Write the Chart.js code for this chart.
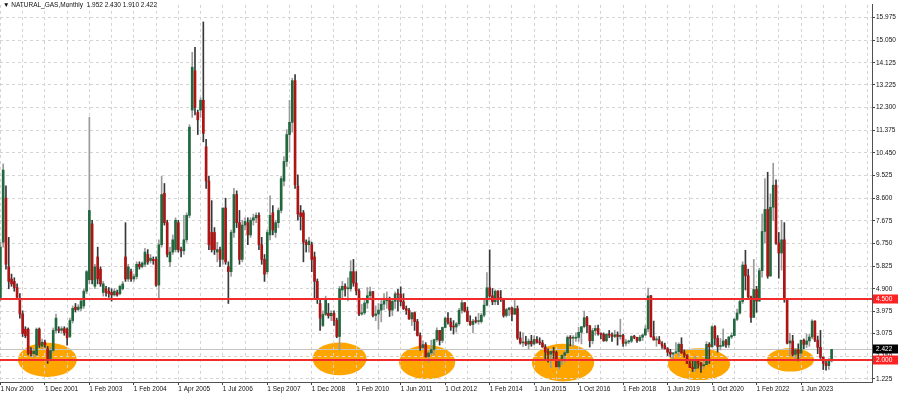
<!DOCTYPE html>
<html>
<head>
<meta charset="utf-8">
<script src="https://cdn.jsdelivr.net/npm/chart.js@4.4.1/dist/chart.umd.min.js"></script>
<style>
  html, body { margin: 0; padding: 0; background: #fff; }
  #wrap { position: relative; width: 900px; height: 396px; }
  #title { position: absolute; left: 3px; top: 0px; font: 6.5px "Liberation Sans", Arial, sans-serif; color: #111; white-space: pre; line-height: 10px; }
</style>
</head>
<body>
<div id="wrap">
  <canvas id="gasChart"></canvas>
  <div id="title">▼ NATURAL_GAS,Monthly  1.952 2.430 1.910 2.422</div>
</div>
<script>
// x軸ラベル (16本ごと)
var xLabels = ['1 Nov 2000', '1 Dec 2001', '1 Feb 2003', '1 Feb 2004', '1 Apr 2005', '1 Jul 2006', '1 Sep 2007',
  '1 Dec 2008', '1 Feb 2010', '1 Jun 2011', '1 Oct 2012', '1 Feb 2014', '1 Jun 2015', '1 Oct 2016',
  '1 Feb 2018', '1 Jun 2019', '1 Oct 2020', '1 Feb 2022', '1 Jun 2023'];
var yTicks = [1.225, 2.150, 3.075, 3.975, 4.900, 5.825, 6.750, 7.675, 8.600, 9.525, 10.450, 11.375, 12.300, 13.225, 14.125, 15.050, 15.975];

// 月足 OHLC
var opens = [
  4.5, 6.8, 8.6, 5.8, 5.3, 5.2, 4.95, 4.5, 3.87, 3.25,
  3.25, 2.35, 2.25, 2.2, 3.25, 2.55, 2.72, 2.45, 2.05, 2.38,
  3.2, 3.25, 3.2, 3.27, 3.25, 2.95, 3.6, 4.15, 4.05, 4.1,
  4.2, 4.8, 5.27, 7.55, 5.0, 6.2, 5.7, 4.75, 4.9, 4.8,
  4.75, 4.65, 4.75, 4.7, 4.9, 6.2, 5.3, 5.6, 5.3, 5.4,
  5.9, 5.8, 5.9, 6.3, 6.05, 6.1, 6.1, 5.05, 6.7, 8.8,
  7.6, 6.0, 6.4, 6.5, 7.6, 6.5, 6.45, 6.9, 7.9, 12.2,
  13.8, 12.1, 12.2, 12.6, 10.7, 9.3, 7.2, 7.2, 6.4, 6.5,
  6.1, 8.2, 5.8, 5.6, 7.2, 8.75, 7.6, 6.1, 7.5, 7.6,
  7.1, 7.7, 7.8, 7.9, 6.7, 6.1, 5.6, 7.1, 8.0, 7.2,
  7.6, 8.1, 9.3, 10.1, 11.2, 11.7, 13.4, 9.1, 8.0, 8.0,
  6.8, 6.7, 6.7, 6.2, 5.2, 4.3, 3.4, 3.85, 3.9, 3.8,
  3.9, 3.6, 2.95, 4.85, 5.0, 4.9, 4.9, 5.6, 5.13, 4.82,
  3.87, 3.92, 4.32, 4.62, 4.78, 3.81, 3.87, 4.03, 4.27, 4.41,
  4.42, 4.03, 4.39, 4.69, 4.67, 4.37, 4.09, 4.02, 3.67, 3.92,
  3.56, 2.99, 2.5, 2.62, 2.13, 2.28, 2.42, 2.82, 3.2, 2.79,
  3.32, 3.7, 3.54, 3.35, 3.34, 3.47, 4.02, 4.33, 3.99, 3.57,
  3.44, 3.58, 3.56, 3.56, 3.82, 4.23, 4.94, 4.61, 4.37, 4.8,
  4.54, 4.46, 3.81, 4.05, 4.12, 3.86, 4.09, 2.89, 2.69, 2.73,
  2.64, 2.76, 2.65, 2.83, 2.72, 2.69, 2.52, 2.32, 2.23, 2.34,
  2.3, 1.71, 1.96, 2.18, 2.29, 2.92, 2.88, 2.88, 2.91, 3.12,
  3.35, 3.72, 3.39, 2.78, 3.19, 3.28, 3.07, 3.04, 2.78, 3.04,
  3.01, 2.95, 3.02, 2.95, 3.0, 2.67, 2.73, 2.76, 2.95, 2.92,
  2.78, 2.92, 3.01, 3.26, 4.61, 2.94, 2.81, 2.81, 2.66, 2.57,
  2.45, 2.31, 2.23, 2.28, 2.33, 2.63, 2.28, 2.19, 1.84, 1.68,
  1.64, 1.95, 1.85, 1.75, 1.8, 2.63, 2.53, 3.35, 2.88, 2.54,
  2.56, 2.77, 2.61, 2.93, 2.99, 3.65, 3.91, 4.38, 5.87, 5.43,
  4.57, 3.73, 4.87, 4.4, 5.64, 7.24, 8.14, 5.42, 8.23, 9.13,
  6.77, 6.36, 6.9, 4.48, 2.68, 2.77, 2.22, 2.41, 2.27, 2.8,
  2.63, 2.77, 2.93, 3.58, 2.8, 2.51, 2.1, 1.86, 1.76, 1.952
];
var highs = [
  6.8, 10.0, 9.1, 7.0, 5.5, 5.35, 5.1, 4.7, 4.0, 3.35,
  3.3, 2.5, 2.45, 3.3, 3.3, 2.85, 2.8, 2.55, 2.5, 3.3,
  3.87, 3.35, 3.35, 3.35, 3.3, 3.7, 4.2, 4.3, 4.25, 4.5,
  4.9, 5.65, 11.9, 7.7, 5.9, 6.6, 5.8, 5.2, 5.0, 4.95,
  4.9, 4.9, 4.85, 5.05, 5.2, 7.6, 5.9, 5.7, 5.5, 6.0,
  6.0, 6.0, 6.55, 6.5, 6.3, 6.2, 6.2, 6.9, 9.5, 9.2,
  7.7, 6.6, 7.1, 7.8, 7.7, 6.6, 7.9, 8.0, 11.6, 14.56,
  14.76, 12.2, 12.7, 15.8, 11.0, 9.5, 8.5, 7.4, 6.8, 6.6,
  8.2, 8.6, 6.0, 7.3, 9.0, 8.9, 8.1, 7.7, 7.8, 7.8,
  7.8, 7.95, 8.0, 8.0, 7.0, 6.3, 7.3, 8.7, 8.3, 7.7,
  8.2, 9.5, 10.3, 11.4, 12.6, 13.5, 13.65, 9.55, 8.3, 8.1,
  6.9, 7.0, 6.8, 6.4, 5.3, 4.5, 4.0, 4.6, 4.3, 4.0,
  4.0, 3.7, 5.0, 5.2, 5.1, 5.35, 6.05, 6.1, 5.6, 4.9,
  4.26, 4.45, 4.95, 4.97, 4.8, 4.2, 4.3, 4.45, 4.7, 4.77,
  4.56, 4.43, 4.77, 4.88, 4.98, 4.7, 4.2, 4.1, 3.95, 3.95,
  3.65, 3.1, 2.77, 2.7, 2.35, 2.8, 2.85, 3.3, 3.2, 3.34,
  3.75, 3.93, 3.7, 3.6, 3.52, 4.1, 4.44, 4.34, 4.15, 3.8,
  3.65, 3.75, 3.9, 3.9, 4.49, 5.56, 6.49, 4.91, 4.86, 4.83,
  4.83, 4.5, 4.1, 4.13, 4.15, 4.49, 4.2, 3.14, 3.1, 2.96,
  2.85, 3.0, 2.98, 2.95, 2.9, 2.8, 2.62, 2.45, 2.35, 2.51,
  2.36, 1.99, 2.2, 2.36, 2.98, 2.99, 2.99, 3.1, 3.33, 3.35,
  3.99, 3.77, 3.4, 3.28, 3.4, 3.42, 3.1, 3.1, 3.07, 3.2,
  3.1, 3.2, 3.14, 3.66, 3.05, 2.83, 2.8, 2.98, 3.0, 2.92,
  3.0, 3.05, 3.4, 4.93, 4.63, 3.58, 2.95, 2.95, 2.74, 2.68,
  2.5, 2.43, 2.3, 2.7, 2.69, 2.9, 2.4, 2.2, 2.0, 1.99,
  2.15, 1.97, 1.9, 1.96, 2.74, 2.7, 3.39, 3.4, 2.99, 2.87,
  3.26, 2.83, 2.95, 3.1, 3.7, 4.07, 4.43, 6.0, 6.47, 5.7,
  4.6, 6.1, 5.0, 5.74, 7.95, 9.4, 9.66, 8.78, 10.03, 9.35,
  7.2, 7.7, 7.6, 4.5, 3.08, 3.0, 2.47, 2.65, 2.8, 2.85,
  3.05, 3.05, 3.64, 3.59, 2.97, 3.2, 2.12, 1.98, 2.05, 2.43
];
var lows = [
  4.4, 6.6, 5.7, 4.9, 5.0, 4.8, 4.45, 3.7, 2.95, 2.9,
  2.2, 2.15, 2.1, 2.15, 2.5, 2.45, 2.5, 1.85, 1.95, 2.3,
  3.1, 3.1, 3.1, 3.0, 2.6, 2.9, 3.5, 3.95, 4.0, 4.0,
  4.1, 4.7, 5.1, 5.1, 4.9, 5.1, 5.0, 4.6, 4.6, 4.55,
  4.4, 4.6, 4.6, 4.65, 4.85, 5.2, 5.2, 5.2, 5.2, 5.3,
  5.7, 5.75, 5.8, 5.9, 5.95, 5.9, 5.0, 4.5, 6.6, 7.5,
  6.2, 5.8, 6.3, 6.4, 6.4, 6.2, 6.3, 6.8, 7.8, 11.9,
  12.0, 11.2, 11.9, 10.9, 9.0, 6.5, 6.4, 6.3, 6.0, 5.8,
  5.9, 5.9, 4.3, 5.4, 7.0, 7.4, 5.9, 6.0, 7.3, 6.7,
  7.0, 7.5, 7.6, 6.5, 5.9, 5.2, 5.5, 6.9, 7.1, 7.0,
  7.4, 8.0, 9.1, 9.9, 10.5, 11.3, 9.0, 7.7, 7.3, 6.0,
  6.4, 6.4, 5.6, 4.5, 4.3, 3.2, 3.35, 3.8, 3.7, 3.6,
  3.4, 2.9, 2.4, 4.5, 4.6, 4.4, 4.8, 5.0, 4.65, 3.8,
  3.82, 3.85, 4.1, 4.45, 3.75, 3.6, 3.25, 3.55, 4.05, 4.1,
  3.77, 3.8, 4.1, 4.0, 4.2, 4.05, 3.85, 3.65, 3.4, 3.2,
  2.97, 2.38, 2.43, 2.1, 1.9, 2.2, 2.2, 2.75, 2.6, 2.7,
  3.3, 3.45, 3.2, 3.05, 3.13, 3.4, 3.9, 3.95, 3.56, 3.4,
  3.1, 3.5, 3.45, 3.5, 3.75, 4.2, 4.55, 4.25, 4.25, 4.25,
  4.38, 3.74, 3.75, 3.8, 3.59, 3.85, 2.83, 2.64, 2.55, 2.58,
  2.44, 2.55, 2.6, 2.68, 2.62, 2.51, 1.98, 1.9, 1.68, 2.04,
  1.71, 1.61, 1.8, 1.9, 2.25, 2.57, 2.55, 2.75, 2.75, 2.65,
  3.3, 3.1, 2.52, 2.65, 3.0, 3.0, 2.85, 2.75, 2.73, 2.9,
  2.75, 2.9, 2.6, 2.84, 2.55, 2.57, 2.65, 2.7, 2.86, 2.71,
  2.75, 2.78, 3.0, 3.14, 2.92, 2.8, 2.55, 2.65, 2.46, 2.44,
  2.17, 2.11, 2.03, 2.24, 2.14, 2.27, 2.1, 1.84, 1.68, 1.52,
  1.52, 1.66, 1.48, 1.63, 1.8, 1.85, 2.5, 2.6, 2.31, 2.4,
  2.56, 2.5, 2.5, 2.87, 2.98, 3.6, 3.86, 4.3, 4.85, 4.5,
  3.53, 3.72, 3.94, 4.38, 5.37, 6.76, 5.33, 5.41, 7.68, 6.71,
  5.33, 5.66, 4.35, 2.65, 2.17, 2.15, 1.95, 1.95, 2.1, 2.45,
  2.5, 2.55, 2.85, 2.74, 2.25, 2.05, 1.6, 1.58, 1.6, 1.91
];
var closes = [
  6.6, 9.75, 5.9, 5.2, 5.1, 4.95, 4.55, 3.87, 3.07, 2.98,
  2.27, 2.25, 2.35, 3.25, 2.6, 2.72, 2.62, 2.05, 2.38, 3.2,
  3.7, 3.2, 3.27, 3.1, 2.9, 3.6, 4.1, 4.05, 4.15, 4.4,
  4.8, 5.6, 8.1, 5.27, 5.8, 5.3, 5.1, 5.1, 4.75, 4.7,
  4.65, 4.8, 4.65, 5.0, 5.1, 5.3, 5.8, 5.3, 5.4, 5.9,
  5.8, 5.95, 6.4, 6.0, 6.15, 6.05, 5.05, 6.7, 8.75, 7.6,
  6.3, 6.4, 6.9, 7.7, 6.5, 6.45, 6.9, 7.9, 11.5, 13.95,
  12.3, 11.8, 12.6, 11.25, 9.3, 6.7, 6.5, 6.5, 6.5, 6.1,
  8.2, 6.0, 5.6, 7.2, 8.75, 7.6, 6.1, 7.5, 7.65, 7.1,
  7.7, 7.8, 7.9, 6.7, 6.1, 5.5, 7.2, 7.9, 7.3, 7.6,
  8.1, 9.4, 10.1, 11.2, 11.7, 13.4, 9.15, 7.95, 7.85, 6.8,
  6.7, 6.85, 6.1, 5.2, 4.5, 3.7, 3.85, 4.5, 3.8, 3.9,
  3.6, 2.95, 4.9, 5.0, 4.9, 4.9, 5.6, 5.13, 4.82, 3.87,
  3.92, 4.32, 4.62, 4.78, 3.81, 3.87, 4.03, 4.27, 4.41, 4.42,
  4.03, 4.39, 4.69, 4.67, 4.37, 4.09, 4.02, 3.67, 3.92, 3.56,
  2.99, 2.5, 2.62, 2.13, 2.28, 2.42, 2.82, 3.2, 2.79, 3.32,
  3.7, 3.54, 3.35, 3.34, 3.47, 4.02, 4.33, 3.99, 3.57, 3.44,
  3.58, 3.56, 3.56, 3.82, 4.23, 4.94, 4.61, 4.37, 4.8, 4.54,
  4.46, 3.81, 4.05, 4.12, 3.86, 4.09, 2.89, 2.69, 2.73, 2.64,
  2.76, 2.65, 2.83, 2.72, 2.69, 2.52, 2.32, 2.23, 2.34, 2.3,
  1.71, 1.96, 2.18, 2.29, 2.92, 2.88, 2.88, 2.91, 3.12, 3.35,
  3.72, 3.39, 2.78, 3.19, 3.28, 3.07, 3.04, 2.78, 3.04, 3.01,
  2.95, 3.02, 2.95, 3.0, 2.67, 2.73, 2.76, 2.95, 2.92, 2.78,
  2.92, 3.01, 3.26, 4.61, 2.94, 2.81, 2.81, 2.66, 2.57, 2.45,
  2.31, 2.23, 2.28, 2.33, 2.63, 2.28, 2.19, 1.84, 1.68, 1.64,
  1.95, 1.85, 1.75, 1.8, 2.63, 2.53, 3.35, 2.88, 2.54, 2.56,
  2.77, 2.61, 2.93, 2.99, 3.65, 3.91, 4.38, 5.87, 5.43, 4.57,
  3.73, 4.87, 4.4, 5.64, 7.24, 8.14, 5.42, 8.23, 9.13, 6.77,
  6.36, 6.9, 4.48, 2.68, 2.77, 2.22, 2.41, 2.27, 2.8, 2.63,
  2.77, 2.93, 3.58, 2.8, 2.51, 2.1, 1.86, 1.76, 1.99, 2.422
];

// 水平線と現在値
var levels = [4.5, 2.0];
var lastPrice = 2.422;

// オレンジの楕円 (x はバー番号, y は価格)
var zones = [
  { x: 16.9, y: 2.0, rx: 10.6, ry: 0.7 },
  { x: 122.0, y: 2.04, rx: 9.7, ry: 0.67 },
  { x: 153.5, y: 1.9, rx: 10.1, ry: 0.7 },
  { x: 202.4, y: 1.88, rx: 11.2, ry: 0.77 },
  { x: 251.3, y: 1.82, rx: 11.2, ry: 0.65 },
  { x: 284.2, y: 2.0, rx: 8.5, ry: 0.48 }
];

var font = '"Liberation Sans", Arial, sans-serif';
Chart.defaults.font.family = font;
Chart.defaults.font.size = 6.5;

// ローソク足のデータ
var bodies = [];
var wicks = [];
var bodyColor = [];
var wickColor = [];
for (let i = 0; i < closes.length; i++) {
  let up = closes[i] >= opens[i];
  bodies.push({ x: i, y: [Math.min(opens[i], closes[i]), Math.max(opens[i], closes[i])] });
  wicks.push({ x: i, y: [lows[i], highs[i]] });
  bodyColor.push(up ? '#21683f' : '#ad1414');
  wickColor.push(up ? '#9a9a9a' : '#383838');
}

var overlay = {
  id: 'overlay',
  beforeDraw: function(chart) {
    var ctx = chart.ctx, a = chart.chartArea, x = chart.scales.x, y = chart.scales.y;
    ctx.save();
    ctx.beginPath();
    ctx.rect(a.left, a.top, a.right - a.left, a.bottom - a.top);
    ctx.clip();
    ctx.fillStyle = '#ffa500';
    zones.forEach(function(z) {
      var cx = x.getPixelForValue(z.x), cy = y.getPixelForValue(z.y);
      var rx = Math.abs(x.getPixelForValue(z.x + z.rx) - cx);
      var ry = Math.abs(y.getPixelForValue(z.y + z.ry) - cy);
      ctx.beginPath();
      ctx.ellipse(cx, cy, rx, ry, 0, 0, Math.PI * 2);
      ctx.fill();
    });
    ctx.restore();
  },
  beforeDatasetsDraw: function(chart) {
    // 現在値のライン
    var ctx = chart.ctx, a = chart.chartArea, y = chart.scales.y;
    var py = Math.round(y.getPixelForValue(lastPrice)) + 0.5;
    ctx.save();
    ctx.strokeStyle = '#c4c4c4';
    ctx.lineWidth = 1;
    ctx.beginPath();
    ctx.moveTo(a.left, py);
    ctx.lineTo(a.right, py);
    ctx.stroke();
    ctx.restore();
  },
  afterDatasetsDraw: function(chart) {
    var ctx = chart.ctx, a = chart.chartArea, y = chart.scales.y;
    ctx.save();
    ctx.strokeStyle = '#f22c2c';
    ctx.lineWidth = 2;
    levels.forEach(function(v) {
      var py = Math.round(y.getPixelForValue(v));
      ctx.beginPath();
      ctx.moveTo(a.left, py);
      ctx.lineTo(a.right, py);
      ctx.stroke();
    });
    ctx.restore();
  },
  afterDraw: function(chart) {
    var ctx = chart.ctx, a = chart.chartArea, y = chart.scales.y;
    function tag(v, bg, h) {
      var py = Math.round(y.getPixelForValue(v));
      ctx.fillStyle = bg;
      ctx.fillRect(a.right + 1, py - h / 2, 25, h);
      ctx.fillStyle = '#fff';
      ctx.font = '6.5px ' + font;
      ctx.textAlign = 'left';
      ctx.textBaseline = 'middle';
      ctx.fillText(v.toFixed(3), a.right + 4, py + 0.5);
    }
    ctx.save();
    tag(lastPrice, '#000', 9);
    levels.forEach(function(v) { tag(v, '#ff2222', 9); });
    ctx.restore();
  }
};

var ctx = document.getElementById('gasChart');
var gasChart = new Chart(ctx, {
  type: 'bar',
  data: {
    datasets: [
      { data: bodies, backgroundColor: bodyColor, barThickness: 2, minBarLength: 1, grouped: false, order: 1 },
      { data: wicks, backgroundColor: wickColor, barThickness: 1, grouped: false, order: 2 }
    ]
  },
  options: {
    responsive: true,
    maintainAspectRatio: false,
    animation: false,
    layout: { autoPadding: false, padding: 0 },
    plugins: { legend: { display: false }, tooltip: { enabled: false } },
    scales: {
      x: {
        type: 'linear',
        position: 'bottom',
        min: -0.144,
        max: 313.53,
        offset: false,
        afterBuildTicks: function(scale) {
          var t = [];
          for (let v = 0; v <= 312; v += 8) t.push({ value: v });
          scale.ticks = t;
        },
        afterFit: function(scale) { scale.height = 14; },
        grid: {
          color: '#d4d4d4',
          offset: false,
          tickLength: 3,
          tickColor: function(c) {
            var v = c.tick ? c.tick.value : 1;
            return (v % 16 === 0 && xLabels[v / 16]) ? '#444' : 'rgba(0,0,0,0)';
          }
        },
        border: { color: '#505050', dash: [3, 3] },
        ticks: {
          autoSkip: false,
          maxRotation: 0,
          align: 'start',
          padding: 0,
          color: '#111',
          callback: function(v) { return v % 16 === 0 ? (xLabels[v / 16] || '') : ''; }
        }
      },
      y: {
        position: 'right',
        min: 1.092,
        max: 16.495,
        afterBuildTicks: function(scale) {
          scale.ticks = yTicks.map(function(v) { return { value: v }; });
        },
        afterFit: function(scale) { scale.width = 28; },
        grid: { color: '#d4d4d4', tickLength: 3, tickColor: '#444' },
        border: { color: '#505050', dash: [3, 3] },
        ticks: {
          padding: 1,
          color: '#111',
          callback: function(v) { return v.toFixed(3); }
        }
      }
    }
  },
  plugins: [overlay]
});
</script>
</body>
</html>
